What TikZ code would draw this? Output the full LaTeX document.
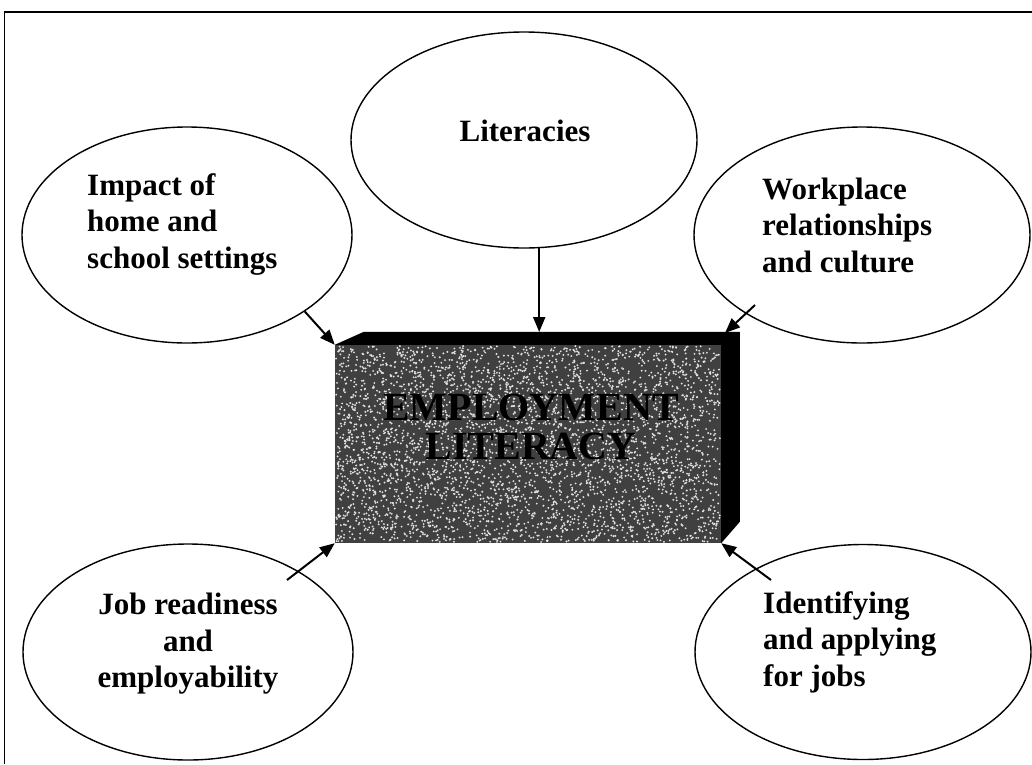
\documentclass[tikz,border=0pt]{standalone}
\usepackage{fontspec}
\setmainfont{Liberation Serif}
\usetikzlibrary{shapes.geometric,arrows.meta}
\definecolor{boxgray}{gray}{0.25}
\definecolor{speck}{gray}{0.88}
\begin{document}
\begin{tikzpicture}[x=1pt,y=-1pt,
  bubble/.style={draw,ellipse,line width=1.4pt,inner sep=0pt},
  lbl/.style={font=\bfseries\fontsize{31}{36.5}\selectfont,inner sep=0pt},
  boxlbl/.style={font=\bfseries\fontsize{40}{39}\selectfont,inner sep=0pt,align=center,text=black},
  conn/.style={line width=2pt,-{Triangle[length=15pt,width=12pt]}}]
\useasboundingbox (0,0) rectangle (1032,764);
% frame
\draw[line width=1.5pt] (1032,12) -- (4,12);
\draw[line width=0.9pt] (4,12) -- (4,764);
% ellipses
\node[bubble,minimum width=346pt,minimum height=216pt] (lit) at (524,140) {};
\node[bubble,minimum width=330pt,minimum height=216pt] (imp) at (187,235) {};
\node[bubble,minimum width=336pt,minimum height=216pt] (work) at (862,235) {};
\node[bubble,minimum width=330pt,minimum height=216pt] (job) at (188,652) {};
\node[bubble,minimum width=336pt,minimum height=215pt] (ident) at (863,652) {};
% labels
\node[lbl] (tlit) at (525,131) {Literacies};
\node[lbl,anchor=west,align=left] (timp) at (87,224) {Impact of\\home and\\school settings};
\node[lbl,anchor=west,align=left] (twork) at (762,225) {Workplace\\relationships\\and culture};
\node[lbl,align=center] (tjob) at (188,644) {Job readiness\\and\\employability};
\node[lbl,anchor=west,align=left] (tident) at (763,642) {Identifying\\and applying\\for jobs};
% central box (front face + bevel)
\node[fill=boxgray,minimum width=386pt,minimum height=198pt,inner sep=0pt] (box) at (528,444) {};
\pgfmathsetseed{11}
\foreach \i in {1,...,4200}{
  \pgfmathsetmacro\px{336+384*rnd}
  \pgfmathsetmacro\py{346+196*rnd}
  \fill[speck] (\px,\py) circle (1.05pt);
}
\fill[black] (box.north west) -- ++(29,-13) -- ++(376,0) -- ++(0,190) -- (box.south east) -- (box.north east) -- cycle;
\node[boxlbl] (tbox) at (531,427) {EMPLOYMENT\\LITERACY};
% connectors
\coordinate (bevtop) at (733,332);
\coordinate (workT) at (755,305);
\coordinate (workH) at (725,333);
\coordinate (jobT) at (287,580);
\coordinate (idT) at (771,580);
\draw[conn] (imp.-33) -- (box.north west);
\draw[conn] (lit.-82.6) -- (lit.-82.6 |- bevtop);
\draw[conn] (workT) -- (workH);
\draw[conn] (jobT) -- (box.south west);
\draw[conn] (idT) -- (box.south east);
\end{tikzpicture}
\end{document}
